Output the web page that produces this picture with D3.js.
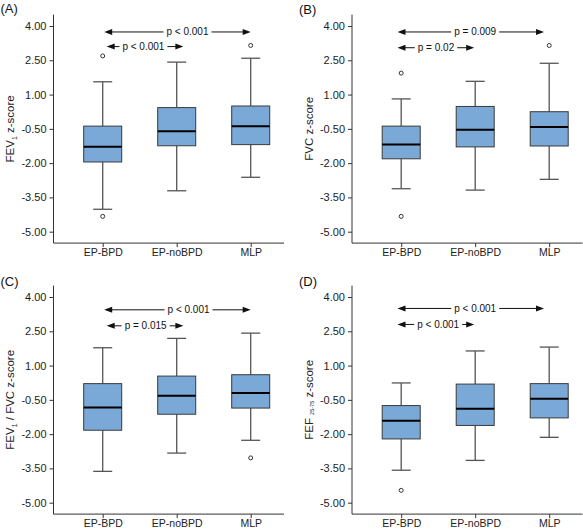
<!DOCTYPE html>
<html><head><meta charset="utf-8">
<script src="https://cdn.jsdelivr.net/npm/d3@7/dist/d3.min.js"></script>
<style>body{margin:0;background:#fff} svg{display:block;font-family:"Liberation Sans",Arial,sans-serif}</style>
</head><body><svg id="c" width="583" height="530"></svg>
<script>
const categories = ["EP-BPD", "EP-noBPD", "MLP"];
const yTicks = [4, 2.5, 1, -0.5, -2, -3.5, -5];
const yTickLabels = ["4.00", "2.50", "1.00", "-0.50", "-2.00", "-3.50", "-5.00"];
const panelLetters = ["(A)", "(B)", "(C)", "(D)"];

// box stats per category: [whiskerLow, Q1, median, Q3, whiskerHigh]
const fev1Box = [[-4.02, -1.95, -1.28, -0.38, 1.56], [-3.21, -1.24, -0.61, 0.43, 2.42], [-2.62, -1.19, -0.39, 0.50, 2.59]];
const fev1Outliers = [[2.69, -4.33], [], [3.15]];
const fvcBox = [[-3.12, -1.81, -1.18, -0.38, 0.81], [-3.18, -1.29, -0.54, 0.48, 1.58], [-2.71, -1.25, -0.42, 0.25, 2.37]];
const fvcOutliers = [[1.94, -4.33], [], [3.15]];
const ratioBox = [[-3.63, -1.83, -0.83, 0.21, 1.78], [-2.83, -1.13, -0.32, 0.54, 2.19], [-2.27, -0.86, -0.20, 0.60, 2.42]];
const ratioOutliers = [[], [], [-3.04]];
const fefBox = [[-3.58, -2.21, -1.41, -0.75, 0.24], [-3.15, -1.62, -0.89, 0.19, 1.64], [-2.14, -1.29, -0.45, 0.21, 1.81]];
const fefOutliers = [[-4.46], [], []];

// comparison labels and their level (z-score) for each panel
const fev1Tests = [["p < 0.001", 3.74], ["p < 0.001", 3.10]];
const fvcTests = [["p = 0.009", 3.74], ["p = 0.02", 3.05]];
const ratioTests = [["p < 0.001", 3.44], ["p = 0.015", 2.74]];
const fefTests = [["p < 0.001", 3.50], ["p < 0.001", 2.80]];

// y-axis titles: [main, subscript, rest]
const yTitles = [["FEV", "1", " z-score"], ["FVC z-score", "", ""], ["FEV", "1", " / FVC z-score"], ["FEF ", "25-75", " z-score"]];

const svg = d3.select("#c");
const panels = [
  {box: fev1Box, out: fev1Outliers, tests: fev1Tests, ox: 0, oy: 0, span: [[0.02, 2.0, 1.146], [0.054, 1.09, 0.55]], ly: 13, tx: 13.5},
  {box: fvcBox, out: fvcOutliers, tests: fvcTests, ox: 298.5, oy: 0, span: [[-0.05, 1.93, 1.0], [-0.05, 0.986, 0.47]], ly: 14, tx: 14},
  {box: ratioBox, out: ratioOutliers, tests: ratioTests, ox: 0, oy: 271, span: [[0.02, 2.0, 1.16], [0.054, 1.09, 0.58]], ly: 14.5, tx: 14},
  {box: fefBox, out: fefOutliers, tests: fefTests, ox: 298.5, oy: 271, span: [[-0.05, 1.93, 1.0], [-0.05, 0.986, 0.5]], ly: 14.5, tx: 14}
];

const boxW = 38, capW = 19;
const fill = "#7aa9d8";

panels.forEach((p, pi) => {
  const g = svg.append("g").attr("transform", `translate(${p.ox},${p.oy})`);
  const y = d3.scaleLinear().domain([-5.5, 4.5]).range([243.1, 14.6]);
  const x = d3.scaleLinear().domain([0, 2]).range([102.7, 250.7]);
  const axX = 53.5, axEnd = 284;

  // panel letter
  g.append("text").attr("x", 0.5).attr("y", p.ly).attr("font-size", 13).attr("fill", "#111").text(panelLetters[pi]);

  // y axis
  const yAxis = d3.axisLeft(y).tickValues(yTicks).tickSize(4).tickPadding(3)
    .tickFormat((d, i) => yTickLabels[i]);
  const ya = g.append("g").attr("transform", `translate(${axX},0)`).call(yAxis);
  ya.select(".domain").remove();
  ya.selectAll("text").attr("font-size", 11).attr("fill", "#222").attr("font-family", "Liberation Sans, Arial, sans-serif");
  ya.selectAll("line").attr("stroke", "#333");
  g.append("line").attr("x1", axX).attr("x2", axX).attr("y1", y(4.5)).attr("y2", y(-5.5)).attr("stroke", "#333");

  // x axis
  const xb = d3.scaleOrdinal().domain(categories).range([0, 1, 2].map(x));
  const xAxis = d3.axisBottom(xb).tickSize(4).tickPadding(1);
  const xa = g.append("g").attr("transform", `translate(0,${y(-5.5)})`).call(xAxis);
  xa.select(".domain").remove();
  xa.selectAll("text").attr("font-size", 10.5).attr("fill", "#222").attr("font-family", "Liberation Sans, Arial, sans-serif");
  xa.selectAll("line").attr("stroke", "#333");
  g.append("line").attr("x1", axX).attr("x2", axEnd).attr("y1", y(-5.5)).attr("y2", y(-5.5)).attr("stroke", "#333");

  // y title
  const t = yTitles[pi];
  const tt = g.append("text").attr("transform", `translate(${p.tx},${(y(4.5) + y(-5.5)) / 2}) rotate(-90)`)
    .attr("text-anchor", "middle").attr("font-size", 11.5).attr("fill", "#222");
  tt.append("tspan").text(t[0]);
  if (t[1]) {
    const small = pi === 3;
    tt.append("tspan").attr("font-size", small ? 5.5 : 7).attr("dy", small ? 1.5 : 3).text(t[1]);
    tt.append("tspan").attr("dy", small ? -1.5 : -3).text(t[2]);
  }

  // boxes
  p.box.forEach((b, i) => {
    const cx = x(i);
    g.append("line").attr("x1", cx).attr("x2", cx).attr("y1", y(b[4])).attr("y2", y(b[3])).attr("stroke", "#555").attr("stroke-width", 1.3);
    g.append("line").attr("x1", cx).attr("x2", cx).attr("y1", y(b[1])).attr("y2", y(b[0])).attr("stroke", "#555").attr("stroke-width", 1.3);
    g.append("line").attr("x1", cx - capW / 2).attr("x2", cx + capW / 2).attr("y1", y(b[4])).attr("y2", y(b[4])).attr("stroke", "#555").attr("stroke-width", 1.3);
    g.append("line").attr("x1", cx - capW / 2).attr("x2", cx + capW / 2).attr("y1", y(b[0])).attr("y2", y(b[0])).attr("stroke", "#555").attr("stroke-width", 1.3);
    g.append("rect").attr("x", cx - boxW / 2).attr("y", y(b[3])).attr("width", boxW).attr("height", y(b[1]) - y(b[3]))
      .attr("fill", fill).attr("stroke", "#3a3a3a").attr("stroke-width", 1);
    g.append("line").attr("x1", cx - boxW / 2).attr("x2", cx + boxW / 2).attr("y1", y(b[2])).attr("y2", y(b[2])).attr("stroke", "#000").attr("stroke-width", 2);
    p.out[i].forEach(o => {
      g.append("circle").attr("cx", cx).attr("cy", y(o)).attr("r", 2).attr("fill", "#fff").attr("stroke", "#333").attr("stroke-width", 1);
    });
  });

  // comparison arrows
  p.tests.forEach((tst, k) => {
    const [from, to, tc] = p.span[k];
    const yy = y(tst[1]);
    const x1 = x(from), x2 = x(to), xc = x(tc);
    const txt = g.append("text").attr("x", xc).attr("y", yy + 3.5).attr("text-anchor", "middle")
      .attr("font-size", 10).attr("fill", "#111").text(tst[0]);
    const w = txt.node().getComputedTextLength();
    const gap = 3;
    g.append("line").attr("x1", x1 + 5).attr("x2", xc - w / 2 - gap).attr("y1", yy).attr("y2", yy).attr("stroke", "#111").attr("stroke-width", 1);
    g.append("line").attr("x1", xc + w / 2 + gap).attr("x2", x2 - 5).attr("y1", yy).attr("y2", yy).attr("stroke", "#111").attr("stroke-width", 1);
    g.append("path").attr("d", `M${x1},${yy}L${x1 + 8},${yy - 3}L${x1 + 8},${yy + 3}Z`).attr("fill", "#111");
    g.append("path").attr("d", `M${x2},${yy}L${x2 - 8},${yy - 3}L${x2 - 8},${yy + 3}Z`).attr("fill", "#111");
  });
});
</script></body></html>
